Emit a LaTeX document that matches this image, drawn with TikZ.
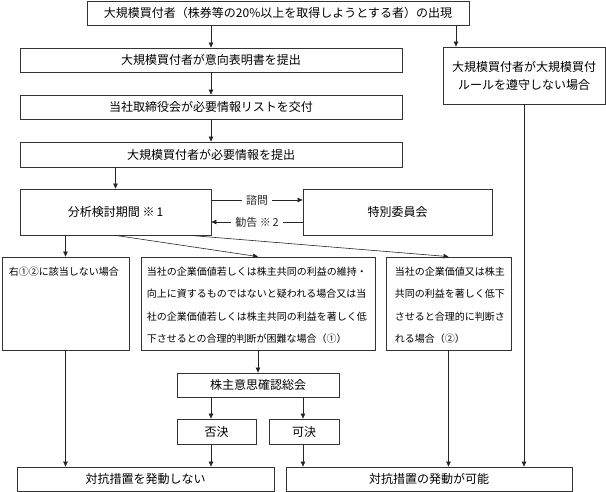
\documentclass[tikz,border=0pt]{standalone}
\usepackage{fontspec}
\setmainfont{Noto Sans CJK JP}
\usetikzlibrary{arrows.meta}

\begin{document}
\begin{tikzpicture}[x=1pt,y=-1pt,
            box/.style={draw=black!80,line width=0.8pt,minimum height=24pt,inner sep=0pt,font=\fontsize{12}{18}\selectfont},
            casebox/.style={draw=black!80,line width=0.8pt,minimum height=93pt,inner sep=0pt},
            casetext/.style={anchor=north west,inner sep=0pt,align=left,font=\fontsize{10}{22.5}\selectfont},
            lbl/.style={fill=white,inner xsep=4pt,inner ysep=1pt,font=\fontsize{11}{13}\selectfont},
            arr/.style={-{Triangle[length=5pt,width=4.5pt]},black!85,line width=0.6pt}]
            \useasboundingbox (0,0) rectangle (606,492);

            \node[box,minimum width=382pt] (appear) at (278,13) {大規模買付者（株券等の20\%以上を取得しようとする者）の出現};
            \node[box,minimum width=382pt] (intent) at (211,60) {大規模買付者が意向表明書を提出};
            \node[box,minimum width=382pt] (list) at (211,107) {当社取締役会が必要情報リストを交付};
            \node[box,minimum width=382pt,minimum height=25pt] (info) at (211,154.5) {大規模買付者が必要情報を提出};
            \node[box,minimum width=162pt,minimum height=57pt,align=center] (breach) at (524,75.5) {大規模買付者が大規模買付\\ルールを遵守しない場合};

            \node[box,minimum width=191pt,minimum height=46pt] (period) at (115.5,212) {分析検討期間\ ※\,1};
            \node[box,minimum width=189pt,minimum height=46pt] (panel) at (397.5,212) {特別委員会};

            \node[casebox,minimum width=127pt] (none) at (65.5,303.5) {};
            \node[casebox,minimum width=234pt] (harm1) at (258,303.5) {};
            \node[casebox,minimum width=125pt] (harm2) at (448.5,303.5) {};
            \node[casetext] (nonetext) at ([shift={(7,10)}]none.north west) {右①②に該当しない場合};
            \node[casetext] (harm1text) at ([shift={(6,10)}]harm1.north west)
                {当社の企業価値若しくは株主共同の利益の維持・\\
                 向上に資するものではないと疑われる場合又は当\\
                 社の企業価値若しくは株主共同の利益を著しく低\\
                 下させるとの合理的判断が困難な場合（①）};
            \node[casetext] (harm2text) at ([shift={(9,10)}]harm2.north west)
                {当社の企業価値又は株主\\
                 共同の利益を著しく低下\\
                 させると合理的に判断さ\\
                 れる場合（②）};

            \node[box,minimum width=162pt] (meeting) at (258,385) {株主意思確認総会};
            \node[box,minimum width=79pt,minimum height=25pt] (reject) at (216.5,431.5) {否決};
            \node[box,minimum width=70pt,minimum height=25pt] (approve) at (304,431.5) {可決};
            \node[box,minimum width=257pt] (nofire) at (145.5,479) {対抗措置を発動しない};
            \node[box,minimum width=286pt] (canfire) at (429,479) {対抗措置の発動が可能};

            \coordinate (breachin) at (456,0);
            \coordinate (ask) at (257,200);
            \coordinate (advise) at (257,222);
            \coordinate (nolane) at (211,0);
            \coordinate (yeslane) at (303,0);

            \draw[arr] (appear.south -| intent) -- (intent);
            \draw[arr] (appear.south -| breachin) -- (breach.north -| breachin);
            \foreach \a/\b in {intent/list,list/info}
            {
                \draw[arr] (\a) -- (\b);
            }
            \draw[arr] (info.south -| period) -- (period);
            \draw[arr] (period.east |- ask) -- node[lbl] {諮問} (panel.west |- ask);
            \draw[arr] (panel.west |- advise) -- node[lbl] {勧告\ ※\,2} (period.east |- advise);

            \draw[arr] (period.south -| none) -- (none);
            \draw[arr] (period.south) -- (harm1.north);
            \draw[arr] ([xshift=74.5pt]period.south) -- (harm2.north);

            \draw[arr] (none) -- (none |- nofire.north);
            \draw[arr] (harm1) -- (meeting);
            \draw[arr] (meeting.south -| nolane) -- (reject.north -| nolane);
            \draw[arr] (meeting.south -| yeslane) -- (approve.north -| yeslane);
            \draw[arr] (reject.south -| nolane) -- (nofire.north -| nolane);
            \draw[arr] (approve.south -| yeslane) -- (canfire.north -| yeslane);
            \draw[arr] (harm2) -- (harm2 |- canfire.north);
            \draw[arr] (breach) -- (breach |- canfire.north);

        \end{tikzpicture}
\end{document}
